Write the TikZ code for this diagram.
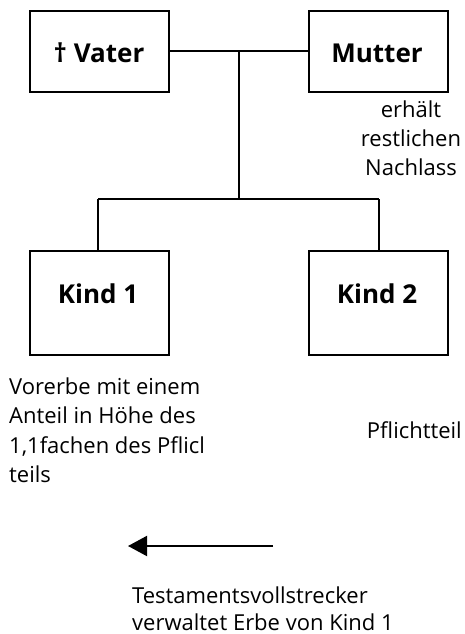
\documentclass[tikz,border=0pt]{standalone}
\usepackage{fontspec}
\setmainfont{Open Sans}
\usetikzlibrary{arrows.meta}
\tikzset{
  personbox/.style={draw, line width=2pt, minimum width=139pt, inner sep=0pt, font=\fontsize{26}{30}\selectfont\bfseries},
  note/.style={inner sep=0pt, font=\fontsize{22}{29}\selectfont},
  link/.style={line width=2pt},
}
\begin{document}
\begin{tikzpicture}[x=1pt,y=-1pt]
\useasboundingbox (0,0) rectangle (464,634);
% boxes
\node[personbox, minimum height=81pt] (V) at (99.5,51.5) {};
\node[personbox, minimum height=81pt] (M) at (378.5,51.5) {};
\node[personbox, minimum height=104pt] (K1) at (99.5,303) {};
\node[personbox, minimum height=104pt] (K2) at (378.5,303) {};
\node[personbox, draw=none, anchor=base] (Vt) at (99,63) {† Vater};
\node[personbox, draw=none, anchor=base] (Mt) at (377,63) {Mutter};
\node[personbox, draw=none, anchor=base] (K1t) at (98,303) {Kind 1};
\node[personbox, draw=none, anchor=base] (K2t) at (377,303) {Kind 2};
% connectors
\coordinate (j1) at (239,51.5);
\coordinate (j2) at (239,199);
\coordinate (c1) at (98,199);
\coordinate (c2) at (379,199);
\draw[link] (V.east) -- (M.west);
\draw[link] (j1) -- (j2);
\draw[link] (c1) -- (c2);
\draw[link] (c1) -- (c1 |- K1.north);
\draw[link] (c2) -- (c2 |- K2.north);
% mother's note
\node[note, anchor=base] (m1) at (411,117) {erhält};
\node[note, anchor=base] (m2) at (411,146) {restlichen};
\node[note, anchor=base] (m3) at (411,175) {Nachlass};
% child 1 note
\node[note, anchor=base west] (v1) at (9,394) {Vorerbe mit einem};
\node[note, anchor=base west] (v2) at (9,423) {Anteil in Höhe des};
\node[note, anchor=base west] (v3) at (9,453) {1,1fachen des Pflicl};
\node[note, anchor=base west] (v4) at (9,482) {teils};
% child 2 note
\node[note, anchor=base east] (p1) at (462,438) {Pflichtteil};
% arrow
\coordinate (a1) at (273,546);
\coordinate (a2) at (128,546);
\draw[link, -{Triangle[length=19pt,width=20pt]}] (a1) -- (a2);
% executor
\node[note, anchor=base west] (t1) at (132,603) {Testamentsvollstrecker};
\node[note, anchor=base west] (t2) at (132,630) {verwaltet Erbe von Kind 1};
\end{tikzpicture}
\end{document}
